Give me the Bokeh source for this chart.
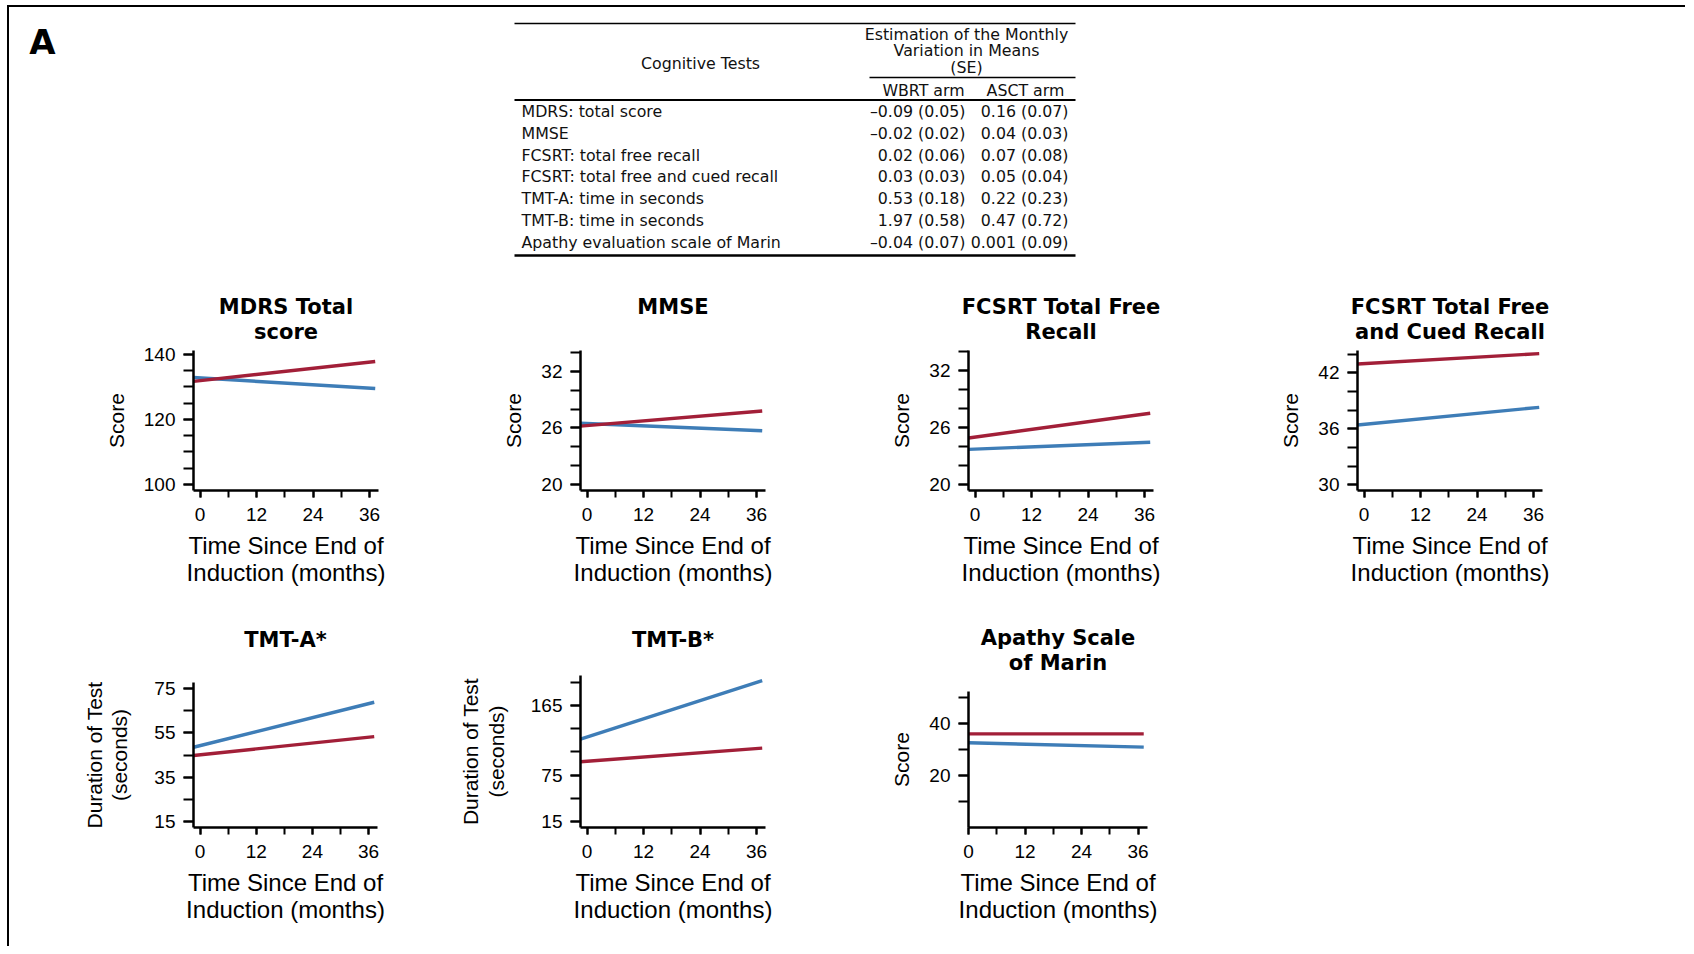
from bokeh.plotting import figure
from bokeh.models import Range1d, FixedTicker, Title, Spacer
from bokeh.layouts import column, row
from bokeh.embed import file_html
from bokeh.resources import INLINE
from bokeh.core.properties import value

# ---------------- table data ----------------
tests = ["MDRS: total score", "MMSE", "FCSRT: total free recall",
         "FCSRT: total free and cued recall", "TMT-A: time in seconds",
         "TMT-B: time in seconds", "Apathy evaluation scale of Marin"]
wbrt_est = ["\u20130.09 (0.05)", "\u20130.02 (0.02)", "0.02 (0.06)", "0.03 (0.03)",
            "0.53 (0.18)", "1.97 (0.58)", "\u20130.04 (0.07)"]
asct_est = ["0.16 (0.07)", "0.04 (0.03)", "0.07 (0.08)", "0.05 (0.04)",
            "0.22 (0.23)", "0.47 (0.72)", "0.001 (0.09)"]

# ---------------- panel data ----------------
titles = ["MDRS Total\nscore", "MMSE", "FCSRT Total Free\nRecall",
          "FCSRT Total Free\nand Cued Recall", "TMT-A*", "TMT-B*",
          "Apathy Scale\nof Marin"]
ylabels = ["Score", "Score", "Score", "Score",
           "Duration of Test\n(seconds)", "Duration of Test\n(seconds)", "Score"]
xlabel = "Time Since End of\nInduction (months)"

# months at which each fitted line starts / ends
t_start = [-1.4, -1.4, -1.4, -1.4, -1.4, -1.4, 0.0]
t_end = [37.2, 37.2, 37.2, 37.2, 37.2, 37.2, 37.2]
# WBRT arm (blue) fitted values at start / end
wbrt_start = [132.9, 26.5, 23.7, 36.4, 48.5, 121.7, 32.6]
wbrt_end = [129.5, 25.7, 24.45, 38.3, 68.8, 197.5, 30.9]
# ASCT arm (red) fitted values at start / end
asct_start = [131.7, 26.2, 24.9, 42.95, 44.8, 92.3, 36.0]
asct_end = [137.8, 27.8, 27.5, 44.07, 53.3, 110.0, 36.0]

y_major = [[100, 120, 140], [20, 26, 32], [20, 26, 32], [30, 36, 42],
           [15, 35, 55, 75], [15, 75, 165], [20, 40]]
y_minor = [[100, 105, 110, 115, 120, 125, 130, 135, 140],
           [20, 22, 24, 26, 28, 30, 32, 34],
           [20, 22, 24, 26, 28, 30, 32, 34],
           [30, 32, 34, 36, 38, 40, 42, 44],
           [15, 25, 35, 45, 55, 65, 75],
           [15, 45, 75, 105, 135, 165, 195],
           [10, 20, 30, 40, 50]]
x_major = [0, 12, 24, 36]
x_minor = [0, 6, 12, 18, 24, 30, 36]

y_limits = [(98.15, 141.2), (19.36, 34.23), (19.37, 34.1), (29.37, 44.4),
            (12.3, 77.7), (7.2, 204.0), (0.0, 52.3)]
x_limits = [(-1.4, 37.9)] * 6 + [(0.0, 38.0)]

RED = "#A21F38"
BLUE = "#3E7DB7"
AX_FONT = "Liberation Sans"
TITLE_FONT = "DejaVu Sans"
TABLE_FONT = "DejaVu Sans"
TFS = "15.8px"

# page origin of the content (inside the frame border)
OX, OY = 9, 7

# ---------------- header (table) ----------------
header = figure(width=1676, height=276 - OY, x_range=Range1d(OX, OX + 1676),
                y_range=Range1d(276, OY),
                x_axis_type=None, y_axis_type=None, min_border=0,
                toolbar_location=None, output_backend="svg")
header.grid.visible = False
header.outline_line_color = None

TL, TR = 514, 1075
header.segment(x0=[TL, 869, TL, TL], y0=[23, 77, 99.5, 255],
               x1=[TR, TR, TR, TR], y1=[23, 77, 99.5, 255],
               line_color="black", line_width=[1.5, 1.5, 2, 2.5])

header.text(x=[42], y=[41], text=["A"], text_font=value(TITLE_FONT),
            text_font_size="34px", text_font_style="bold",
            text_align="center", text_baseline="middle", text_color="black")

header.text(x=[700], y=[63], text=["Cognitive Tests"], text_font=value(TABLE_FONT),
            text_font_size=TFS, text_align="center", text_baseline="middle",
            text_color="#111111")
header.text(x=[966, 966, 966], y=[33.5, 50, 66.5],
            text=["Estimation of the Monthly", "Variation in Means", "(SE)"],
            text_font=value(TABLE_FONT), text_font_size=TFS, text_align="center",
            text_baseline="middle", text_color="#111111")
header.text(x=[923, 1025], y=[89.5, 89.5], text=["WBRT arm", "ASCT arm"],
            text_font=value(TABLE_FONT), text_font_size=TFS, text_align="center",
            text_baseline="middle", text_color="#111111")

row_y = [111 + 21.8 * i for i in range(len(tests))]
header.text(x=[521] * len(tests), y=row_y, text=tests, text_font=value(TABLE_FONT),
            text_font_size=TFS, text_align="left", text_baseline="middle",
            text_color="#111111")
header.text(x=[965] * len(tests), y=row_y, text=wbrt_est, text_font=value(TABLE_FONT),
            text_font_size=TFS, text_align="right", text_baseline="middle",
            text_color="#111111")
header.text(x=[1068] * len(tests), y=row_y, text=asct_est, text_font=value(TABLE_FONT),
            text_font_size=TFS, text_align="right", text_baseline="middle",
            text_color="#111111")

# ---------------- panels ----------------
# (fig width, border left, border right, border top, frame height, border bottom,
#  gap between frame top and the title line nearest to it)
geom = [(388, 184, 19, 74, 140, 110, 2.6),
        (388, 183, 20, 74, 140, 110, 27.6),
        (388, 183, 20, 74, 140, 110, 2.6),
        (512, 184, 143, 74, 140, 110, 2.6),
        (388, 184, 20, 82, 145, 119, 26.6),
        (388, 183, 20, 75, 152, 119, 19.6),
        (388, 183, 26, 91, 136, 119, 12.6)]
YLAB_STANDOFF = [13, 13, 13, 13, 20, 20, 13]
LINE1_STANDOFF = -3.6


def title_part(text, standoff, size="21px"):
    kw = dict(text=text, align="center", text_font=TITLE_FONT,
              text_font_size=size, text_font_style="bold", text_color="black")
    try:
        return Title(standoff=standoff, **kw)
    except Exception:
        return Title(standoff=max(standoff, 0), **kw)


def make_panel(i):
    w, bl, br, bt, fh, bb, gap = geom[i]
    p = figure(width=w, height=bt + fh + bb,
               x_range=Range1d(*x_limits[i]), y_range=Range1d(*y_limits[i]),
               min_border_left=bl, min_border_right=br,
               min_border_top=bt, min_border_bottom=bb,
               toolbar_location=None, output_backend="svg")
    try:
        p.frame_align = False
    except Exception:
        pass
    p.title.visible = False
    # invisible spacer that sets the gap between frame and title
    p.add_layout(title_part("\u00a0", gap, size="2px"), "above")
    lines = titles[i].split("\n")
    for k, ln in enumerate(reversed(lines)):
        p.add_layout(title_part(ln, 0 if k == 0 else LINE1_STANDOFF), "above")
    p.grid.visible = False
    p.outline_line_color = None

    p.line(x=[t_start[i], t_end[i]], y=[wbrt_start[i], wbrt_end[i]],
           line_color=BLUE, line_width=3.4)
    p.line(x=[t_start[i], t_end[i]], y=[asct_start[i], asct_end[i]],
           line_color=RED, line_width=3.4)

    xa = p.xaxis[0]
    xa.ticker = FixedTicker(ticks=x_major, minor_ticks=x_minor)
    xa.axis_label = xlabel
    ya = p.yaxis[0]
    ya.ticker = FixedTicker(ticks=y_major[i], minor_ticks=y_minor[i])
    ya.axis_label = ylabels[i]

    for ax in (xa, ya):
        ax.axis_line_width = 2.5
        ax.axis_line_color = "black"
        ax.major_tick_line_width = 2
        ax.minor_tick_line_width = 2
        ax.major_tick_line_color = "black"
        ax.minor_tick_line_color = "black"
        ax.major_tick_in = 0
        ax.minor_tick_in = 0
        ax.major_label_text_font = AX_FONT
        ax.major_label_text_font_size = "19px"
        ax.major_label_text_color = "black"
        ax.axis_label_text_font = AX_FONT
        ax.axis_label_text_font_style = "normal"
        ax.axis_label_text_color = "black"
    xa.axis_label_text_line_height = 1.0
    ya.axis_label_text_line_height = 1.1
    xa.axis_label_text_font_size = "24px"
    ya.axis_label_text_font_size = "21px"
    xa.major_tick_out = 7
    xa.minor_tick_out = 7
    xa.major_label_standoff = 10
    xa.axis_label_standoff = 8
    ya.major_tick_out = 10
    ya.minor_tick_out = 10
    ya.major_label_standoff = 8
    ya.axis_label_standoff = YLAB_STANDOFF[i]
    return p


panels = [make_panel(i) for i in range(7)]

layout = column(
    header,
    row(panels[0], panels[1], panels[2], panels[3]),
    row(panels[4], panels[5], panels[6], Spacer(width=512, height=346)),
    styles={"border-left": "2px solid black", "border-top": "2px solid black",
            "margin-left": "7px", "margin-top": "5px"},
)

open("out.html", "w").write(file_html(layout, INLINE))
